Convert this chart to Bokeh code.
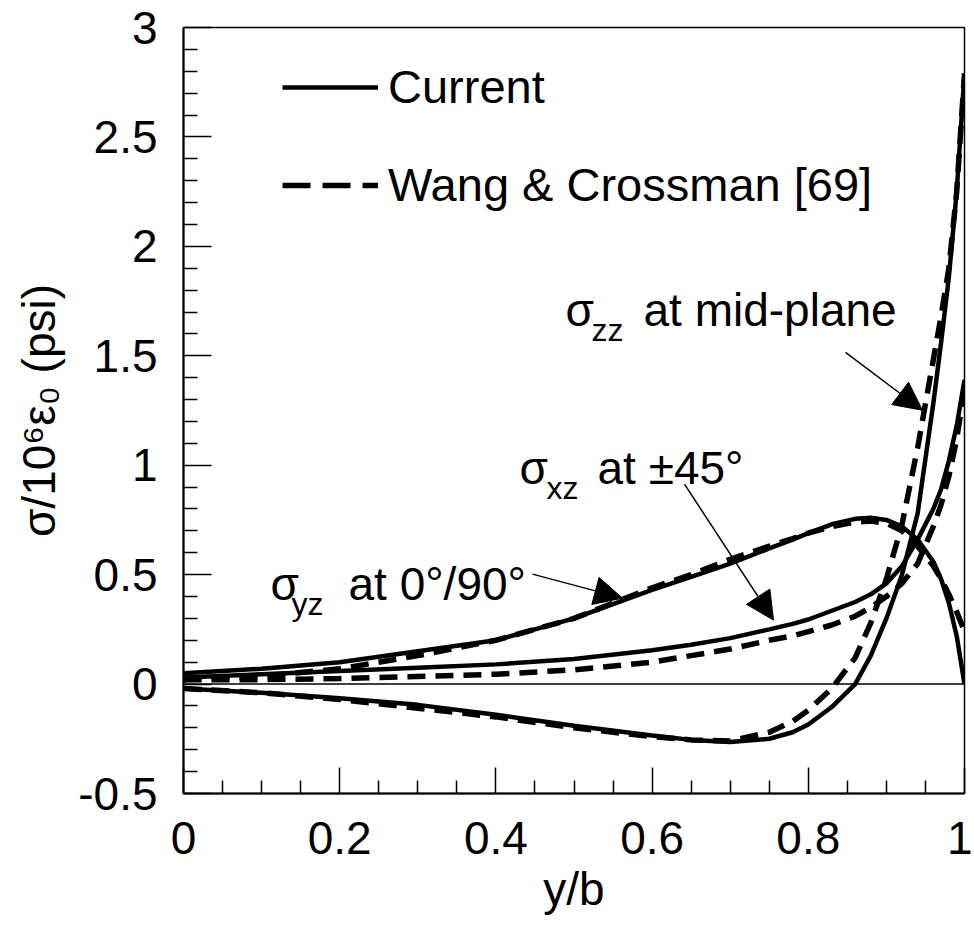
import math
from bokeh.plotting import figure
from bokeh.models import (Range1d, FixedTicker, CustomJSTickFormatter, Label, Arrow,
                          NormalHead, Span, Legend, LegendItem, ColumnDataSource)
from bokeh.embed import file_html
from bokeh.resources import INLINE

# ---------------- data ----------------
y_over_b = [0, 0.1, 0.2, 0.3, 0.4, 0.5, 0.6, 0.65, 0.7, 0.75, 0.78, 0.8, 0.83, 0.86,
            0.88, 0.9, 0.92, 0.94, 0.96, 0.97, 0.98, 0.99, 1.0]

szz_current = [-0.02, -0.04, -0.065, -0.095, -0.14, -0.19, -0.235, -0.255, -0.265, -0.25,
               -0.22, -0.185, -0.105, 0.0, 0.13, 0.3, 0.5, 0.78, 1.28, 1.56, 1.86, 2.25, 2.79]
szz_wang = [-0.02, -0.04, -0.07, -0.11, -0.15, -0.2, -0.24, -0.255, -0.26, -0.22,
            -0.17, -0.12, -0.02, 0.12, 0.28, 0.48, 0.73, 1.08, 1.48, 1.68, 1.9, 2.25, 2.79]

syz_current = [0.05, 0.07, 0.1, 0.15, 0.2, 0.3, 0.43, 0.49, 0.55, 0.62, 0.66, 0.69, 0.73,
               0.755, 0.76, 0.75, 0.72, 0.66, 0.56, 0.48, 0.37, 0.22, 0.0]
syz_wang = [0.02, 0.035, 0.07, 0.13, 0.2, 0.3, 0.44, 0.5, 0.57, 0.63, 0.665, 0.69, 0.72,
            0.74, 0.745, 0.735, 0.7, 0.63, 0.54, 0.48, 0.41, 0.33, 0.24]

sxz_current = [0.03, 0.045, 0.06, 0.075, 0.09, 0.115, 0.155, 0.18, 0.21, 0.25, 0.275, 0.295,
               0.335, 0.375, 0.41, 0.46, 0.54, 0.66, 0.8, 0.89, 1.02, 1.18, 1.39]
sxz_wang = [0.02, 0.02, 0.025, 0.035, 0.045, 0.065, 0.1, 0.13, 0.16, 0.2, 0.22, 0.24, 0.27,
            0.31, 0.35, 0.4, 0.46, 0.55, 0.72, 0.82, 0.95, 1.12, 1.35]

x_ticks = [0, 0.2, 0.4, 0.6, 0.8, 1]
x_minor = [0.05, 0.1, 0.15, 0.25, 0.3, 0.35, 0.45, 0.5, 0.55, 0.65, 0.7, 0.75, 0.85, 0.9, 0.95]
y_ticks = [-0.5, 0, 0.5, 1, 1.5, 2, 2.5, 3]
y_minor = [-0.4, -0.3, -0.2, -0.1, 0.1, 0.2, 0.3, 0.4, 0.6, 0.7, 0.8, 0.9, 1.1, 1.2, 1.3, 1.4,
           1.6, 1.7, 1.8, 1.9, 2.1, 2.2, 2.3, 2.4, 2.6, 2.7, 2.8, 2.9]

series_names = ["Current", "Wang & Crossman [69]"]

FONT = "Liberation Sans"

p = figure(width=972, height=928, x_range=Range1d(0, 1), y_range=Range1d(-0.5, 3),
           output_backend="svg", toolbar_location=None,
           min_border_left=183, min_border_right=8, min_border_top=27, min_border_bottom=135)
p.background_fill_color = "white"
p.border_fill_color = "white"
p.outline_line_color = "black"
p.outline_line_width = 1.5
p.xgrid.visible = False
p.ygrid.visible = False

fmt = CustomJSTickFormatter(code="return tick.toString();")
for ax, tk, mn in ((p.xaxis[0], x_ticks, x_minor), (p.yaxis[0], y_ticks, y_minor)):
    ax.ticker = FixedTicker(ticks=tk, minor_ticks=mn)
    ax.formatter = fmt
    ax.axis_line_width = 2
    ax.axis_line_color = "black"
    ax.major_tick_line_width = 1.5
    ax.minor_tick_line_width = 1.5
    ax.major_tick_out = 0
    ax.minor_tick_out = 0
    ax.major_label_text_font = FONT
    ax.major_label_text_font_size = "46px"
    ax.major_label_text_color = "black"
    ax.axis_label_text_font = FONT
    ax.axis_label_text_font_size = "46px"
    ax.axis_label_text_font_style = "normal"
    ax.axis_label_text_color = "black"

p.xaxis[0].major_tick_in = 26
p.xaxis[0].minor_tick_in = 13
p.xaxis[0].major_label_standoff = 28
p.xaxis[0].axis_label = "y/b"
p.xaxis[0].axis_label_standoff = 6

p.yaxis[0].major_tick_in = 28
p.yaxis[0].minor_tick_in = 14
p.yaxis[0].major_label_standoff = 26
p.yaxis[0].axis_label = "σ/10⁶ε₀ (psi)"
p.yaxis[0].axis_label_standoff = 10

p.add_layout(Span(location=0, dimension="width", line_color="black", line_width=1.5))

SOLID_W = 4.5
DASH_W = 5.5
DASH = "18 10"

for yc, yw in ((szz_current, szz_wang), (syz_current, syz_wang), (sxz_current, sxz_wang)):
    p.line(y_over_b, yc, line_color="black", line_width=SOLID_W)
    p.line(y_over_b, yw, line_color="black", line_width=DASH_W, line_dash=DASH)

# legend proxies (a single NaN point, nothing drawn in the frame)
nan = float("nan")
proxy = ColumnDataSource(data=dict(x=[nan], y=[nan]))
r_cur = p.line("x", "y", source=proxy, line_color="black", line_width=SOLID_W)
r_wang = p.line("x", "y", source=proxy, line_color="black", line_width=DASH_W, line_dash="28 12")
legend = Legend(items=[LegendItem(label=series_names[0], renderers=[r_cur]),
                       LegendItem(label=series_names[1], renderers=[r_wang])],
                location=(99, 581), orientation="vertical",
                glyph_width=96, glyph_height=54, label_height=54, label_standoff=10,
                spacing=43, padding=0, margin=0, border_line_alpha=0,
                background_fill_alpha=0, label_text_font=FONT,
                label_text_font_size="47px", label_text_color="black")
p.add_layout(legend)

# ---------------- annotations ----------------
def lab(x, y, text, size):
    p.add_layout(Label(x=x, y=y, text=text, text_font=FONT, text_font_size=size,
                       text_baseline="alphabetic", text_align="left",
                       text_color="black"))

# page px -> data
def dx(px):
    return (px - 183) / 781.0

def dy(py):
    return (684 - py) / 219.0

# sigma_zz at mid-plane
lab(dx(565), dy(310), "σ", "46px")
lab(dx(591), dy(330), "zz", "32px")
lab(dx(643), dy(310), "at mid-plane", "46px")
# sigma_xz at +-45
lab(dx(519), dy(468), "σ", "46px")
lab(dx(546), dy(488), "xz", "32px")
lab(dx(597), dy(468), "at ±45°", "46px")
# sigma_yz at 0/90
lab(dx(270), dy(584), "σ", "46px")
lab(dx(291), dy(604), "yz", "32px")
lab(dx(348), dy(584), "at 0°/90°", "46px")

arrows = [((845, 352), (922, 410)), ((684, 484), (773, 620)), ((532, 574), (622, 598))]
for (sx, sy), (ex, ey) in arrows:
    p.add_layout(Arrow(x_start=dx(sx), y_start=dy(sy), x_end=dx(ex), y_end=dy(ey),
                       line_color="black", line_width=1.5,
                       end=NormalHead(size=28, fill_color="black", line_color="black")))

open("out.html", "w").write(file_html(p, INLINE))
